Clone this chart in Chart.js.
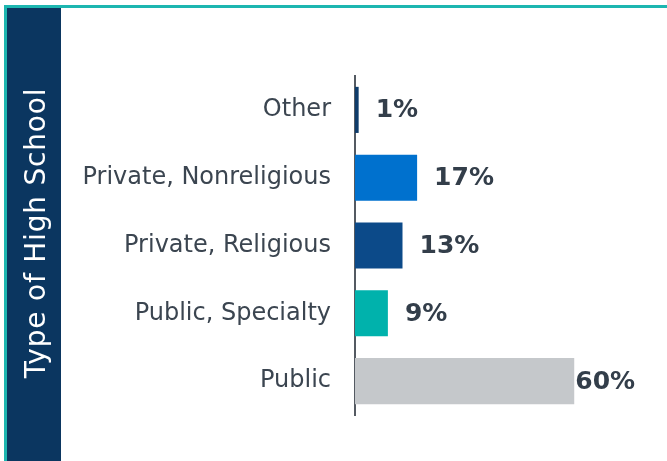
<!DOCTYPE html>
<html>
<head>
<meta charset="utf-8">
<script src="https://cdn.jsdelivr.net/npm/chart.js@4"></script>
<style>
  html, body { margin: 0; padding: 0; background: #fff; }
  .chart-wrap { position: relative; width: 667px; height: 461px; }
</style>
</head>
<body>
<div class="chart-wrap">
  <canvas id="chart"></canvas>
</div>
<script>
const categories = ['Other', 'Private, Nonreligious', 'Private, Religious', 'Public, Specialty', 'Public'];
const shares = [1, 17, 13, 9, 60];
const barColors = ['#0f3c6a', '#0071ce', '#0c4a89', '#00b2ac', '#c5c8cb'];
const axisTitle = 'Type of High School';

// frame: teal border + navy side panel with the rotated title
const framePlugin = {
  id: 'frame',
  beforeDraw(chart) {
    const ctx = chart.ctx;
    ctx.save();
    ctx.fillStyle = '#ffffff';
    ctx.fillRect(0, 0, chart.width, chart.height);
    ctx.fillStyle = '#1db6b0';
    ctx.fillRect(4, 5, chart.width - 4, 3);
    ctx.fillRect(4, 5, 3, chart.height - 5);
    ctx.fillStyle = '#0b3660';
    ctx.fillRect(7, 8, 54, chart.height - 8);
    ctx.translate(45, 233);
    ctx.rotate(-Math.PI / 2);
    ctx.fillStyle = '#ffffff';
    ctx.font = '28px "DejaVu Sans"';
    ctx.letterSpacing = '0.8px';
    ctx.textAlign = 'center';
    ctx.textBaseline = 'alphabetic';
    ctx.fillText(axisTitle, 0, 0);
    ctx.restore();
  }
};

// value labels to the right of each bar, pulled back in when they'd run off the plot
const valueLabels = {
  id: 'valueLabels',
  afterDatasetsDraw(chart) {
    const ctx = chart.ctx;
    const area = chart.chartArea;
    const meta = chart.getDatasetMeta(0);
    ctx.save();
    ctx.font = 'bold 25px "DejaVu Sans"';
    ctx.fillStyle = '#333e4a';
    ctx.textBaseline = 'middle';
    ctx.textAlign = 'left';
    meta.data.forEach((bar, i) => {
      const text = shares[i] + '%';
      const w = ctx.measureText(text).width;
      let x = bar.x + 17;
      if (x + w > area.right) x = bar.x + 1;
      ctx.fillText(text, x, bar.y + 1);
    });
    ctx.restore();
  }
};

new Chart(document.getElementById('chart'), {
  type: 'bar',
  data: {
    labels: categories,
    datasets: [{
      data: shares,
      backgroundColor: barColors,
      borderWidth: 0,
      categoryPercentage: 1,
      barPercentage: 0.68
    }]
  },
  options: {
    indexAxis: 'y',
    responsive: true,
    maintainAspectRatio: false,
    animation: false,
    layout: { padding: { top: 76, bottom: 46, right: 27, left: 0 } },
    plugins: {
      legend: { display: false },
      tooltip: { enabled: false }
    },
    scales: {
      x: {
        display: false,
        min: 0,
        max: 78
      },
      y: {
        afterFit(scale) { scale.width = 355; },
        grid: { display: false, drawTicks: false },
        border: { display: true, color: '#545a62', width: 2 },
        ticks: {
          padding: 24,
          color: '#3b4550',
          font: { family: 'DejaVu Sans', size: 24 }
        }
      }
    }
  },
  plugins: [framePlugin, valueLabels]
});
</script>
</body>
</html>
